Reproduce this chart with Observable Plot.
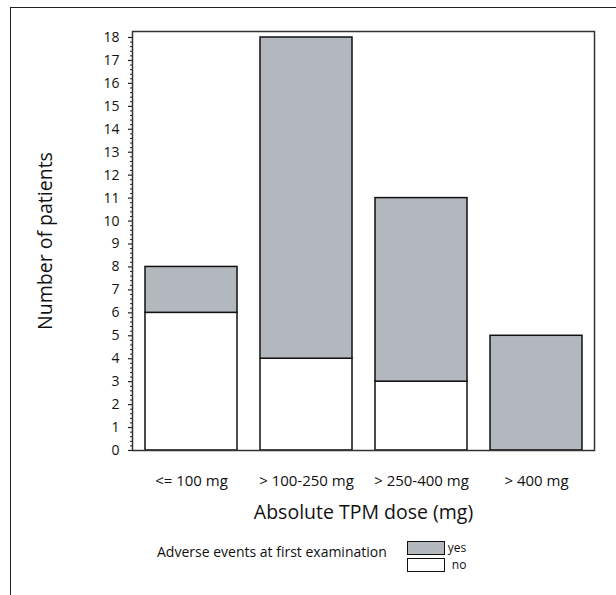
<!DOCTYPE html>
<html>
<head>
<meta charset="utf-8">
<script src="https://cdn.jsdelivr.net/npm/d3@7"></script>
<script src="https://cdn.jsdelivr.net/npm/@observablehq/plot@0.6"></script>
<style>
  html, body { margin: 0; padding: 0; background: #fff; }
  #wrap { position: relative; width: 616px; height: 595px; overflow: hidden; font-family: "Open Sans", sans-serif; }
  #outer { position: absolute; left: 10px; top: 7px; right: -5px; bottom: -5px; border-top: 1.5px solid #222; border-left: 1.5px solid #222; }
  #chart { position: absolute; left: 0; top: 0; }
  #legend { position: absolute; left: 157px; top: 540px; display: flex; align-items: flex-start; font-size: 14px; line-height: 15px; color: #111; }
  #legend .title { margin-top: 4px; margin-right: 20px; }
  #legend .row { display: flex; align-items: center; height: 16.5px; font-size: 12px; line-height: 12px; }
  #legend .sw { box-sizing: border-box; width: 38px; height: 14px; border: 1.3px solid #111; margin-right: 3px; }
  #legend .row.no span { margin-left: 4px; }
</style>
</head>
<body>
<div id="wrap">
  <div id="outer"></div>
  <div id="chart"></div>
  <div id="legend"></div>
</div>
<script>
const categories = ["<= 100 mg", "> 100-250 mg", "> 250-400 mg", "> 400 mg"];
const noValues = [6, 4, 3, 0];
const yesValues = [2, 14, 8, 5];
const groups = ["no", "yes"];
const groupColors = ["#ffffff", "#b3b7be"];
const yTicks = d3.range(0, 19);
const legendTitle = "Adverse events at first examination";

const data = [];
categories.forEach((c, i) => {
  data.push({dose: c, group: "no", n: noValues[i]});
  data.push({dose: c, group: "yes", n: yesValues[i]});
});
const minorTicks = d3.range(0, 90).map(i => i / 5).filter(v => Math.abs(v - Math.round(v)) > 1e-6);

const chart = Plot.plot({
  width: 616,
  height: 530,
  marginLeft: 132,
  marginRight: 22,
  marginTop: 31,
  marginBottom: 80,
  style: {fontFamily: "'Open Sans', sans-serif", fontSize: "14px", color: "#111", background: "transparent"},
  x: {domain: categories, paddingInner: 0.2, paddingOuter: 0.1, label: null},
  y: {domain: [0, 18], insetTop: 6, label: null},
  color: {domain: groups, range: groupColors},
  marks: [
    Plot.barY(data.filter(d => d.n > 0), {x: "dose", y: "n", fill: "group", stroke: "#111", strokeWidth: 1.5, order: groups, inset: 0}),
    Plot.frame({stroke: "#333", strokeWidth: 1.5}),
    Plot.axisY({ticks: yTicks, tickSize: 4, tickPadding: 9, stroke: "#222", strokeWidth: 1.2, fontSize: 14, label: null}),
    Plot.axisY({ticks: minorTicks, tickSize: 2, text: null, stroke: "#222", strokeWidth: 1, label: null}),
    Plot.axisX({tickSize: 0, tickPadding: 25, fontSize: 15, label: null}),
    Plot.text(["Absolute TPM dose (mg)"], {frameAnchor: "bottom", dy: 68, fontSize: 19.5, fill: "#111"}),
    Plot.text(["Number of patients"], {frameAnchor: "left", textAnchor: "middle", dx: -87, rotate: -90, fontSize: 19.5, fill: "#111"})
  ]
});
document.getElementById("chart").appendChild(chart);

const legend = document.getElementById("legend");
const t = document.createElement("div");
t.className = "title";
t.textContent = legendTitle;
legend.appendChild(t);
const col = document.createElement("div");
["yes", "no"].forEach(g => {
  const row = document.createElement("div");
  row.className = "row " + g;
  const sw = document.createElement("div");
  sw.className = "sw";
  sw.style.background = groupColors[groups.indexOf(g)];
  const lab = document.createElement("span");
  lab.textContent = g;
  row.appendChild(sw);
  row.appendChild(lab);
  col.appendChild(row);
});
legend.appendChild(col);
</script>
</body>
</html>
